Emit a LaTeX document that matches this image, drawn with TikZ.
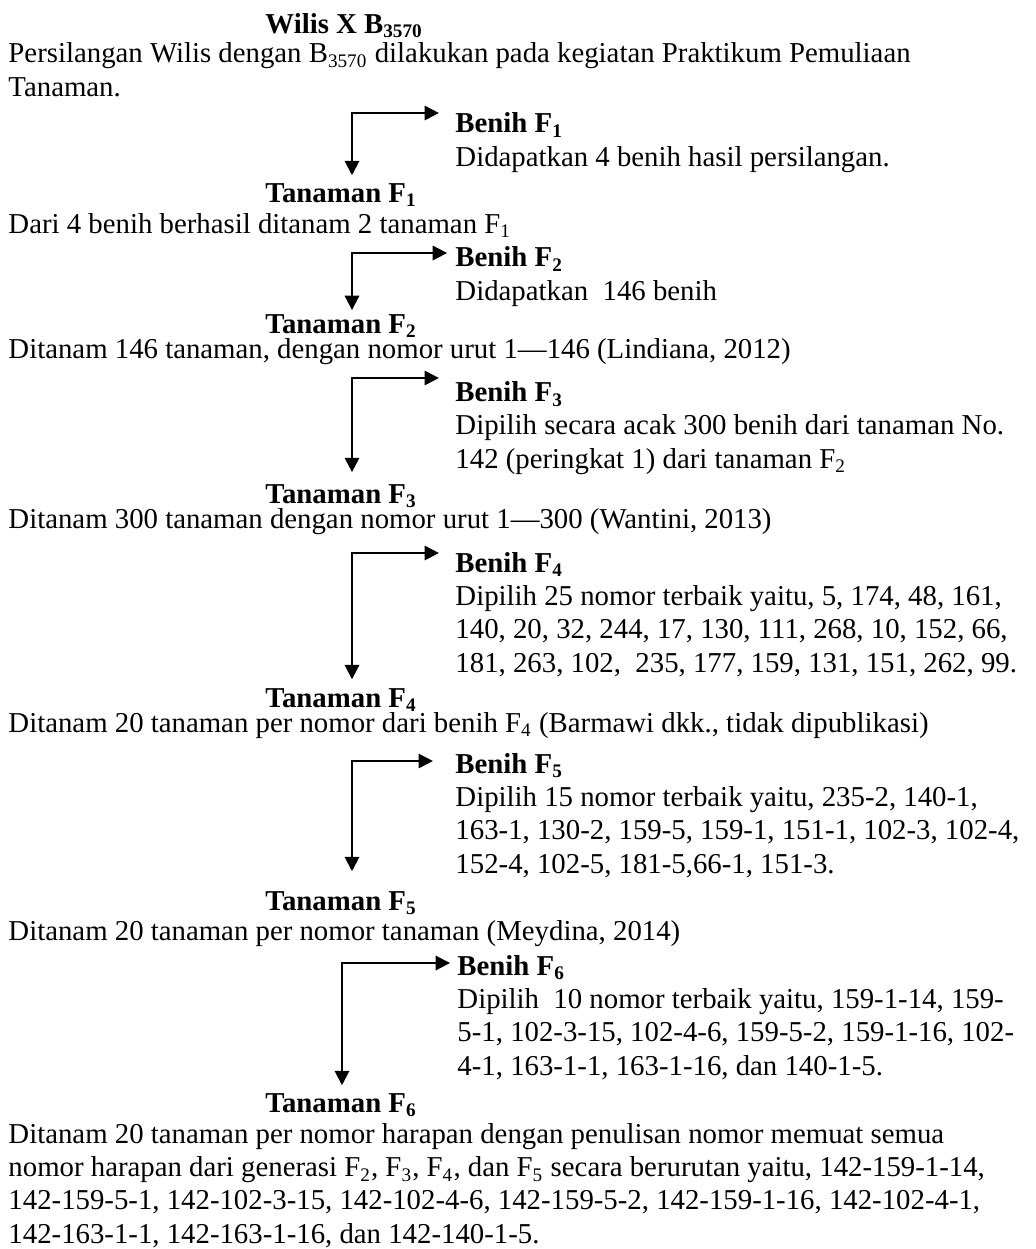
\documentclass[tikz,border=0pt]{standalone}
\usepackage{fontspec}
\setmainfont{Liberation Serif}
\usetikzlibrary{arrows.meta, calc}
\tikzset{
  ttl/.style={anchor=base west, inner sep=0pt, font=\fontsize{12}{13.8}\selectfont\bfseries},
  txt/.style={anchor=base west, inner sep=0pt, align=left, font=\fontsize{12}{13.8}\selectfont},
  fork/.style={{Triangle[length=6pt, width=6pt]}-{Triangle[length=6pt, width=6pt]},
    line width=0.85pt, black}
}

\begin{document}
\begin{tikzpicture}[x=0.4167pt, y=-0.4167pt]
  \useasboundingbox (0,0) rectangle (1035,1249);
  \node[ttl] (hdr) at (265,33) {Wilis X B\textsubscript{3570}};
  \node[txt] (cross) at (8,96) {Persilangan Wilis dengan B\textsubscript{3570} dilakukan pada kegiatan Praktikum Pemuliaan\\Tanaman.};
  % F1
  \coordinate (c1) at (352,113);
  \node[txt] (b1) at (455,166) {\textbf{Benih F\textsubscript{1}}\\Didapatkan 4 benih hasil persilangan.};
  \node[ttl] (t1) at (265,202) {Tanaman F\textsubscript{1}};
  \node[txt] (d1) at (8,233) {Dari 4 benih berhasil ditanam 2 tanaman F\textsubscript{1}};
  % F2
  \coordinate (c2) at (352,253);
  \node[txt] (b2) at (455,300) {\textbf{Benih F\textsubscript{2}}\\Didapatkan\ \ 146 benih};
  \node[ttl] (t2) at (265,333) {Tanaman F\textsubscript{2}};
  \node[txt] (d2) at (8,358) {Ditanam 146 tanaman, dengan nomor urut 1---146 (Lindiana, 2012)};
  % F3
  \coordinate (c3) at (352,378);
  \node[txt] (b3) at (455,468) {\textbf{Benih F\textsubscript{3}}\\Dipilih secara acak 300 benih dari tanaman No.\\142 (peringkat 1) dari tanaman F\textsubscript{2}};
  \node[ttl] (t3) at (265,503) {Tanaman F\textsubscript{3}};
  \node[txt] (d3) at (8,528) {Ditanam 300 tanaman dengan nomor urut 1---300 (Wantini, 2013)};
  % F4
  \coordinate (c4) at (352,553);
  \node[txt] (b4) at (455,672) {\textbf{Benih F\textsubscript{4}}\\Dipilih 25 nomor terbaik yaitu, 5, 174, 48, 161,\\140, 20, 32, 244, 17, 130, 111, 268, 10, 152, 66,\\181, 263, 102,\ \ 235, 177, 159, 131, 151, 262, 99.};
  \node[ttl] (t4) at (265,707) {Tanaman F\textsubscript{4}};
  \node[txt] (d4) at (8,732) {Ditanam 20 tanaman per nomor dari benih F\textsubscript{4} (Barmawi dkk., tidak dipublikasi)};
  % F5
  \coordinate (c5) at (352,761);
  \node[txt] (b5) at (455,873) {\textbf{Benih F\textsubscript{5}}\\Dipilih 15 nomor terbaik yaitu, 235-2, 140-1,\\163-1, 130-2, 159-5, 159-1, 151-1, 102-3, 102-4,\\152-4, 102-5, 181-5,66-1, 151-3.};
  \node[ttl] (t5) at (265,910) {Tanaman F\textsubscript{5}};
  \node[txt] (d5) at (8,940) {Ditanam 20 tanaman per nomor tanaman (Meydina, 2014)};
  % F6
  \coordinate (c6) at (342,963);
  \node[txt] (b6) at (457,1075) {\textbf{Benih F\textsubscript{6}}\\Dipilih\ \ 10 nomor terbaik yaitu, 159-1-14, 159-\\5-1, 102-3-15, 102-4-6, 159-5-2, 159-1-16, 102-\\4-1, 163-1-1, 163-1-16, dan 140-1-5.};
  \node[ttl] (t6) at (265,1112) {Tanaman F\textsubscript{6}};
  \node[txt] (d6) at (8,1243) {Ditanam 20 tanaman per nomor harapan dengan penulisan nomor memuat semua\\nomor harapan dari generasi F\textsubscript{2}, F\textsubscript{3}, F\textsubscript{4}, dan F\textsubscript{5} secara berurutan yaitu, 142-159-1-14,\\142-159-5-1, 142-102-3-15, 142-102-4-6, 142-159-5-2, 142-159-1-16, 142-102-4-1,\\142-163-1-1, 142-163-1-16, dan 142-140-1-5.};
  \draw[fork, shorten <=3.1pt, shorten >=6.7pt] (c1 |- t1.north) -- (c1) -- (c1 -| b1.west);
  \draw[fork, shorten <=1.5pt, shorten >=3.3pt] (c2 |- t2.north) -- (c2) -- (c2 -| b2.west);
  \draw[fork, shorten <=4.8pt, shorten >=6.7pt] (c3 |- t3.north) -- (c3) -- (c3 -| b3.west);
  \draw[fork, shorten <=3.5pt, shorten >=6.7pt] (c4 |- t4.north) -- (c4) -- (c4 -| b4.west);
  \draw[fork, shorten <=8.1pt, shorten >=9.2pt] (c5 |- t5.north) -- (c5) -- (c5 -| b5.west);
  \draw[fork, shorten <=3.1pt, shorten >=2.9pt] (c6 |- t6.north) -- (c6) -- (c6 -| b6.west);
\end{tikzpicture}
\end{document}
